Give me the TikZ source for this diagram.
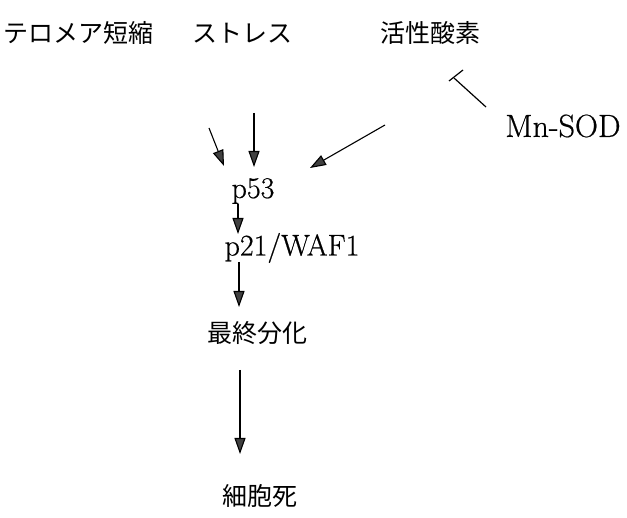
\documentclass[tikz,border=0pt]{standalone}
\usepackage{fontspec}
\newfontfamily\jfont{Noto Sans CJK JP}
\newfontfamily\lfont[FakeBold=0.6]{Latin Modern Roman}
\usetikzlibrary{arrows.meta}
\begin{document}
\begin{tikzpicture}[x=1pt,y=-1pt,
  jlab/.style={inner sep=0pt,font=\jfont\fontsize{25}{25}\selectfont},
  llab/.style={inner sep=0pt,font=\lfont\fontsize{30}{30}\selectfont},
  arr/.style={line width=1.1pt,-{Triangle[length=16pt,width=11pt,fill=black!75]}},
  inh/.style={line width=1.2pt}]
\useasboundingbox (0,0) rectangle (627,518);
\node[jlab] (telo) at (79,33) {テロメア短縮};
\node[jlab] (stress) at (242,33) {ストレス};
\node[jlab] (ros) at (430,33) {活性酸素};
\node[llab,font=\lfont\fontsize{32}{32}\selectfont] (sod) at (563,126) {Mn-SOD};
\node[llab] (p53) at (253,191) {p53};
\node[llab] (p21) at (292,248) {p21/WAF1};
\node[jlab] (diff) at (257,333) {最終分化};
\node[jlab] (death) at (260,496) {細胞死};
\coordinate (t1) at (209,128);
\coordinate (t2) at (224,166);
\coordinate (s1) at (254,113);
\coordinate (s2) at (254,167);
\coordinate (r1) at (385,125);
\coordinate (r2) at (310,168);
\coordinate (m1) at (486,107);
\coordinate (m2) at (454,78);
\coordinate (b1) at (449,81);
\coordinate (b2) at (463,70);
\coordinate (a1) at (238,204);
\coordinate (a2) at (238,234);
\coordinate (c1) at (239,262);
\coordinate (c2) at (239,307);
\coordinate (d1) at (240,370);
\coordinate (d2) at (240,454);
\draw[arr] (t1) -- (t2);
\draw[arr] (s1) -- (s2);
\draw[arr] (r1) -- (r2);
\draw[inh] (m1) -- (m2);
\draw[inh] (b1) -- (b2);
\draw[arr] (a1) -- (a2);
\draw[arr] (c1) -- (c2);
\draw[arr] (d1) -- (d2);
\end{tikzpicture}
\end{document}
